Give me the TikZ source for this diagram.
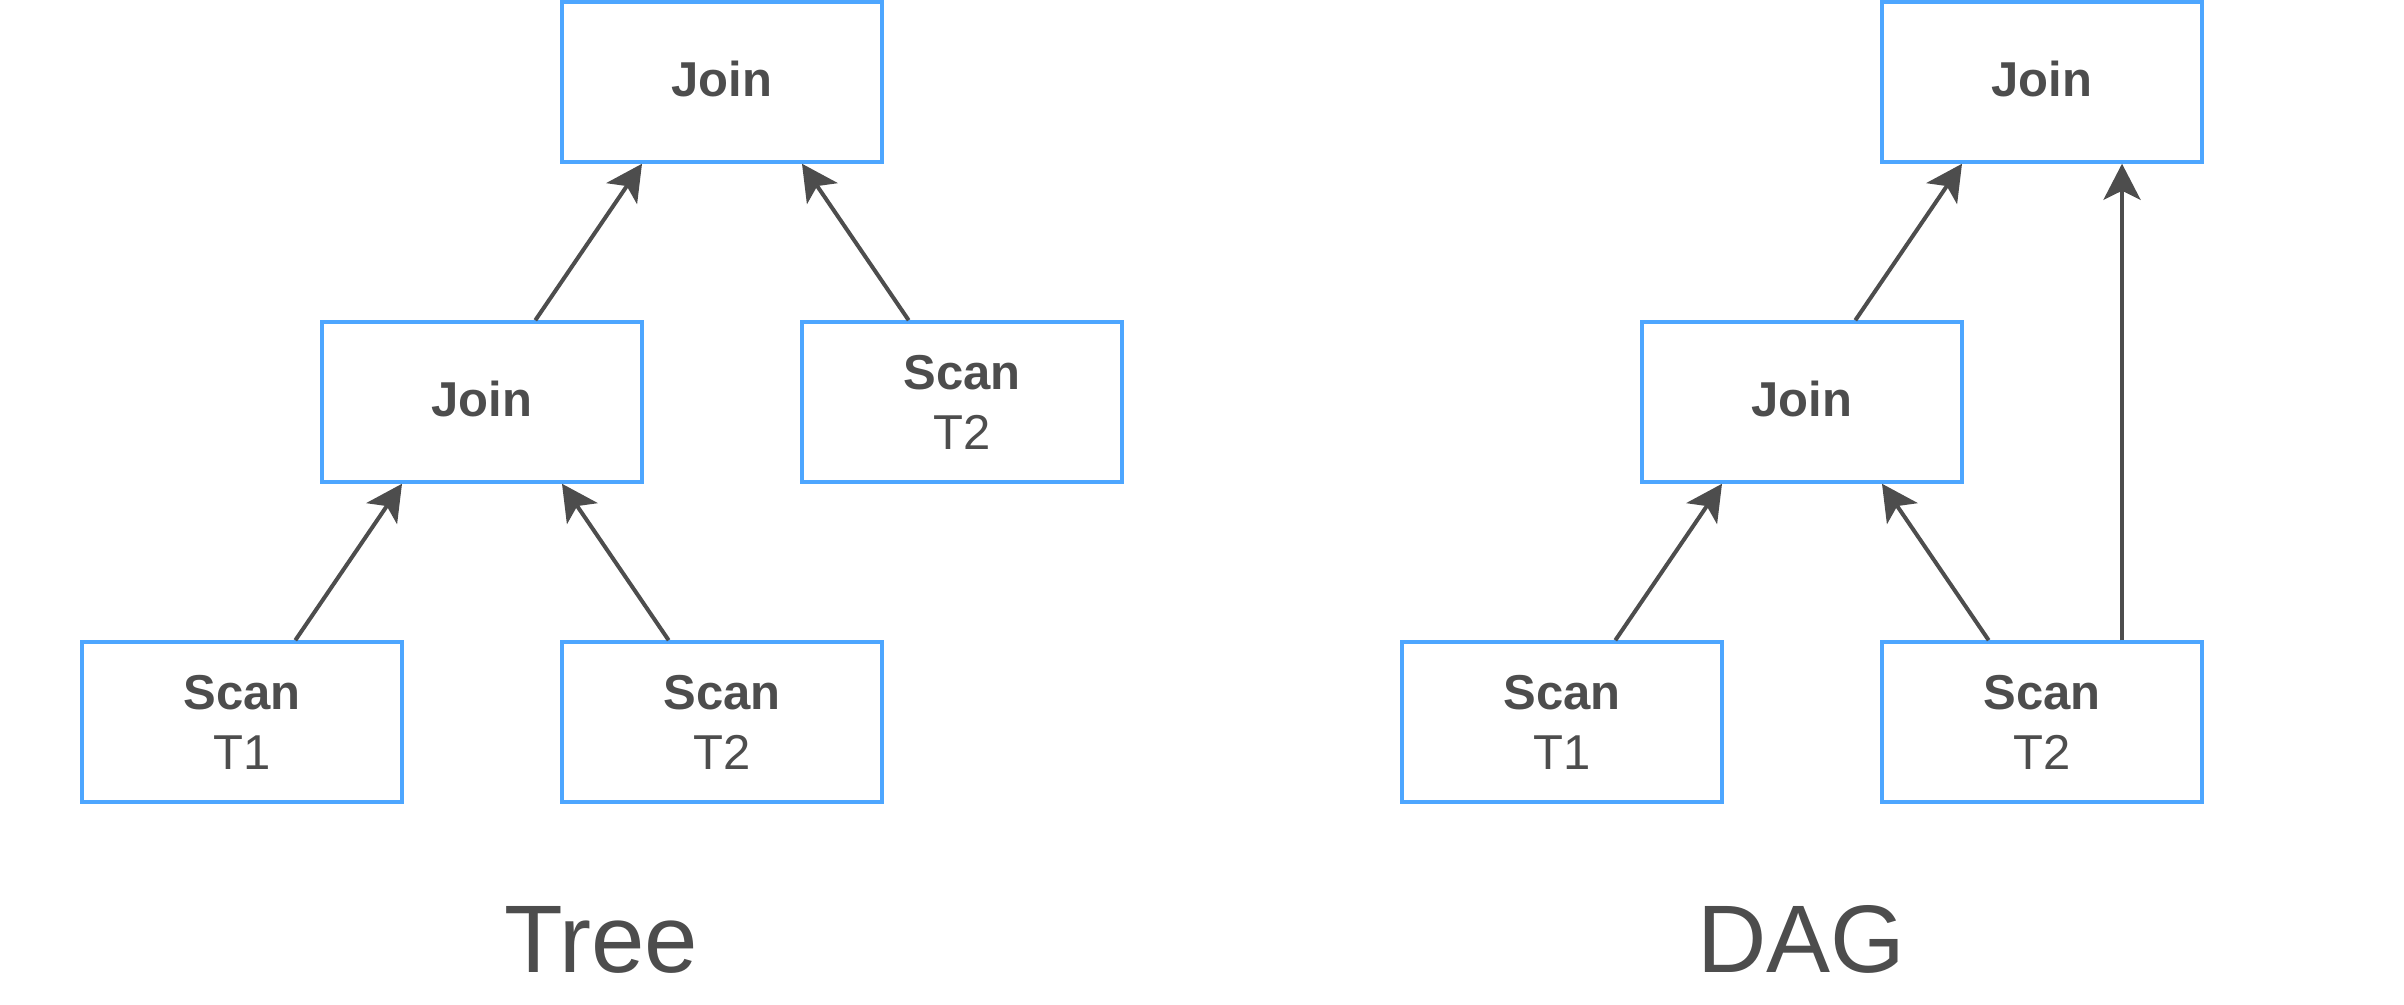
\documentclass[tikz,border=0pt]{standalone}
\usepackage{fontspec}
\setmainfont{Liberation Sans}
\usetikzlibrary{arrows.meta}
\definecolor{boxblue}{RGB}{77,166,255}
\definecolor{ink}{RGB}{77,77,77}
\begin{document}
\begin{tikzpicture}[x=1pt,y=-1pt,
  opbox/.style={draw=boxblue,line width=3.5pt,minimum width=320pt,minimum height=160pt,inner sep=0pt,align=center,text=ink,font=\fontsize{49}{60}\selectfont},
  joinbox/.style={opbox,text depth=6pt},
  conn/.style={draw=ink,line width=4pt,-{Stealth[length=36pt,width=37pt,inset=9pt]}},
  caption/.style={text=ink,inner sep=0pt,anchor=base west,font=\fontsize{96}{110}\selectfont}]
\useasboundingbox (0,0) rectangle (2404,1004);
% Tree
\node[joinbox] (tjtop) at (722,82) {\textbf{Join}};
\node[joinbox] (tjmid) at (482,402) {\textbf{Join}};
\node[opbox] (tsr) at (962,402) {\textbf{Scan}\\T2};
\node[opbox] (ts1) at (242,722) {\textbf{Scan}\\T1};
\node[opbox] (ts2) at (722,722) {\textbf{Scan}\\T2};
\draw[conn] ([xshift=53.33pt]tjmid.north) -- ([xshift=-80pt]tjtop.south);
\draw[conn] ([xshift=-53.33pt]tsr.north) -- ([xshift=80pt]tjtop.south);
\draw[conn] ([xshift=53.33pt]ts1.north) -- ([xshift=-80pt]tjmid.south);
\draw[conn] ([xshift=-53.33pt]ts2.north) -- ([xshift=80pt]tjmid.south);
% DAG
\node[joinbox] (djtop) at (2042,82) {\textbf{Join}};
\node[joinbox] (djmid) at (1802,402) {\textbf{Join}};
\node[opbox] (ds1) at (1562,722) {\textbf{Scan}\\T1};
\node[opbox] (ds2) at (2042,722) {\textbf{Scan}\\T2};
\draw[conn] ([xshift=53.33pt]djmid.north) -- ([xshift=-80pt]djtop.south);
\draw[conn] ([xshift=53.33pt]ds1.north) -- ([xshift=-80pt]djmid.south);
\draw[conn] ([xshift=-53.33pt]ds2.north) -- ([xshift=80pt]djmid.south);
\draw[conn] ([xshift=80pt]ds2.north) -- ([xshift=80pt]djtop.south);
% captions
\node[caption] (treecap) at (504,972) {Tree};
\node[caption] (dagcap) at (1697,972) {DAG};
\end{tikzpicture}
\end{document}
